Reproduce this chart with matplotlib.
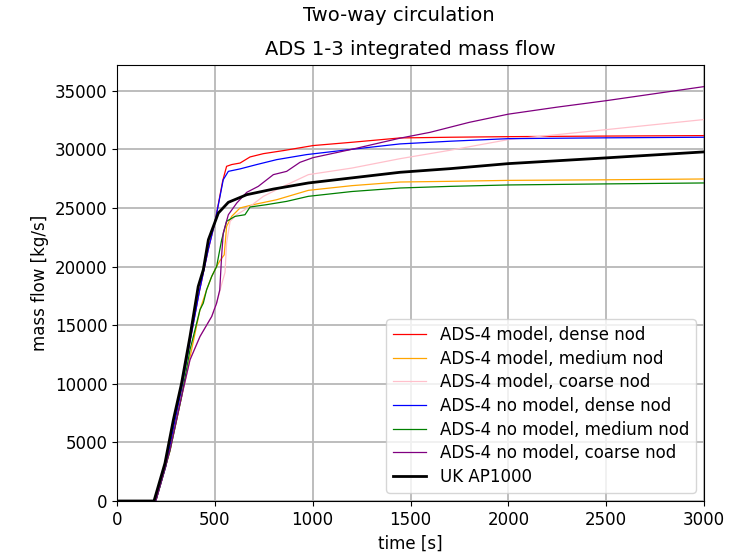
import numpy as np
import matplotlib
matplotlib.use("Agg")
import matplotlib.pyplot as plt

# values (time [s], integrated mass flow [kg/s])
t_model_dense = [0, 198, 250, 290, 330, 373, 420, 467, 500, 540, 560, 586, 629, 680,
                 748, 850, 1002, 1200, 1446, 1702, 2000, 2500, 3000]
v_model_dense = [0, 0, 3000, 6400, 9600, 13600, 17800, 21500, 23740, 27300, 28550, 28700,
                 28830, 29350, 29630, 29890, 30320, 30600, 30970, 31030, 31080, 31130, 31170]

t_model_medium = [0, 198, 271, 330, 390, 424, 458, 484, 509, 526, 548, 560, 586, 629,
                  697, 816, 978, 1200, 1446, 1702, 2000, 2500, 3000]
v_model_medium = [0, 0, 4300, 8900, 13600, 16310, 18020, 19160, 20000, 20500, 21000, 23420,
                  24280, 25000, 25280, 25700, 26500, 26900, 27210, 27270, 27350, 27400, 27470]

t_model_coarse = [0, 198, 271, 330, 373, 424, 484, 509, 535, 552, 560, 578, 612, 680,
                  748, 850, 978, 1200, 1446, 1702, 2000, 2500, 3000]
v_model_coarse = [0, 0, 4360, 8910, 12040, 14030, 15740, 16880, 18500, 19500, 22000, 23860,
                  24420, 25130, 25990, 26840, 27840, 28400, 29200, 29920, 30830, 31680, 32540]

t_nomodel_dense = [0, 198, 250, 290, 330, 373, 420, 467, 500, 543, 569, 629, 714, 816,
                   969, 1200, 1446, 1702, 2000, 2500, 3000]
v_nomodel_dense = [0, 0, 3000, 6400, 9600, 13600, 17800, 21500, 23740, 27410, 28120, 28330,
                   28700, 29120, 29550, 30000, 30460, 30690, 30910, 30980, 31030]

t_nomodel_medium = [0, 198, 271, 330, 373, 390, 424, 441, 458, 484, 509, 535, 560, 603,
                    654, 680, 765, 867, 978, 1200, 1446, 1702, 2000, 2500, 3000]
v_nomodel_medium = [0, 0, 4300, 8900, 12900, 14030, 16310, 16880, 18020, 19160, 20000, 22290,
                    23860, 24280, 24420, 25080, 25280, 25560, 25990, 26400, 26700, 26840,
                    26960, 27050, 27130]

t_nomodel_coarse = [0, 198, 271, 330, 373, 424, 484, 509, 525, 535, 543, 569, 612, 663,
                    722, 799, 867, 935, 1002, 1200, 1446, 1600, 1800, 2000, 2250, 2500,
                    2750, 3000]
v_nomodel_coarse = [0, 0, 4360, 8910, 12040, 14030, 15740, 16880, 18000, 21000, 22860, 24420,
                    25420, 26330, 26840, 27840, 28120, 28890, 29290, 30000, 30950, 31450,
                    32300, 33000, 33600, 34150, 34750, 35350]

t_ap1000 = [0, 189, 245, 288, 330, 373, 415, 441, 467, 518, 569, 663, 799, 978, 1446,
            1702, 2000, 2500, 3000]
v_ap1000 = [0, 0, 3220, 6920, 10050, 14030, 18300, 19730, 22290, 24570, 25480, 26130,
            26610, 27130, 28040, 28350, 28780, 29270, 29780]

series = [
    ("ADS-4 model, dense nod", t_model_dense, v_model_dense, "red", 0.9),
    ("ADS-4 model, medium nod", t_model_medium, v_model_medium, "orange", 0.9),
    ("ADS-4 model, coarse nod", t_model_coarse, v_model_coarse, "pink", 0.9),
    ("ADS-4 no model, dense nod", t_nomodel_dense, v_nomodel_dense, "blue", 0.9),
    ("ADS-4 no model, medium nod", t_nomodel_medium, v_nomodel_medium, "green", 0.9),
    ("ADS-4 no model, coarse nod", t_nomodel_coarse, v_nomodel_coarse, "purple", 0.9),
    ("UK AP1000", t_ap1000, v_ap1000, "black", 2.0),
]

fig = plt.figure(figsize=(7.52, 5.52), dpi=100)
ax = fig.add_axes([0.1556, 0.0924, 0.7806, 0.790])

for label, t, v, color, lw in series:
    ax.plot(t, v, color=color, lw=lw, label=label)

ax.set_xlim(0, 3000)
ax.set_ylim(0, 37200)
ax.set_xticks(np.arange(0, 3001, 500))
ax.set_yticks(np.arange(0, 35001, 5000))
ax.tick_params(labelsize=12)
ax.grid(True, color="#b8b8b8", lw=1.3)
ax.set_axisbelow(True)
ax.set_xlabel("time [s]", fontsize=12)
ax.set_ylabel("mass flow [kg/s]", fontsize=12)
ax.set_title("ADS 1-3 integrated mass flow", fontsize=14, pad=7)
fig.suptitle("Two-way circulation", fontsize=14, x=0.53, y=0.99)
ax.legend(loc="lower right", fontsize=12, handlelength=2.0, labelspacing=0.34,
          borderaxespad=0.5)

fig.savefig("out.png", dpi=100)
